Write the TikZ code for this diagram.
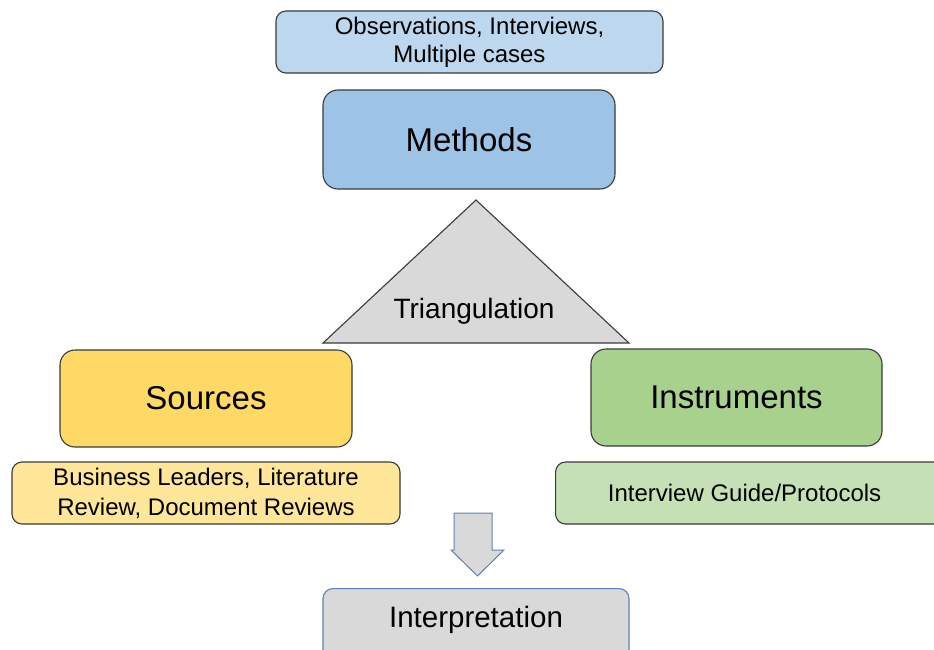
\documentclass[tikz,border=0pt]{standalone}
\usepackage{fontspec}
\setmainfont{Liberation Sans}
\definecolor{topblue}{HTML}{BDD7EE}
\definecolor{methblue}{HTML}{9DC3E6}
\definecolor{srcyel}{HTML}{FFD966}
\definecolor{srcsub}{HTML}{FFE699}
\definecolor{insgreen}{HTML}{A9D18E}
\definecolor{inssub}{HTML}{C5E0B4}
\definecolor{lgray}{HTML}{D9D9D9}
\definecolor{edgedark}{HTML}{3A3A3A}
\definecolor{edgeblue}{HTML}{5F80B6}
\tikzset{
  box/.style={draw=edgedark, line width=1.1pt, rounded corners=10pt, inner sep=0pt, align=center, text=black},
  bigtxt/.style={font=\fontsize{33}{38}\selectfont},
  smalltxt/.style={font=\fontsize{24}{29}\selectfont},
}
\begin{document}
\begin{tikzpicture}[x=1pt,y=-1pt]
\useasboundingbox (0,0) rectangle (934,650);
% top box
\node[box, fill=topblue, minimum width=387pt, minimum height=62pt, font=\fontsize{24}{28}\selectfont] (obs) at (469.5,42) {Observations, Interviews,\\Multiple cases};
% methods
\node[box, bigtxt, fill=methblue, rounded corners=15pt, minimum width=292pt, minimum height=99pt] (meth) at (469,139.5) {Methods};
% triangle
\draw[draw=edgedark, line width=1.1pt, fill=lgray, line join=miter] (476,200) -- (629,343) -- (323,343) -- cycle;
\node[font=\fontsize{28}{32}\selectfont, text=black, inner sep=0pt] (tri) at (474,311) {Triangulation};
% sources
\node[box, bigtxt, fill=srcyel, rounded corners=15pt, minimum width=292pt, minimum height=97pt] (src) at (206,398.5) {Sources};
\node[box, fill=srcsub, minimum width=388pt, minimum height=62pt, font=\fontsize{24}{30}\selectfont] (srcs) at (206,493) {Business Leaders, Literature\\Review, Document Reviews};
% instruments
\node[box, bigtxt, fill=insgreen, rounded corners=15pt, minimum width=291pt, minimum height=97pt] (ins) at (736.5,397.5) {Instruments};
\node[box, smalltxt, fill=inssub, minimum width=390pt, minimum height=62pt, anchor=west] (inss) at (555,493) {\hspace*{-12pt}Interview Guide/Protocols};
% arrow
\draw[draw=edgeblue, line width=1pt, fill=lgray, line join=miter] (454,513) -- (492,513) -- (492,550) -- (504,550) -- (477.5,576) -- (451,550) -- (454,550) -- cycle;
% interpretation
\node[box, draw=edgeblue, fill=lgray, font=\fontsize{29.5}{34}\selectfont, minimum width=306pt, minimum height=80pt, anchor=north] (interp) at (476,588) {};
\node[font=\fontsize{29.5}{34}\selectfont, text=black, inner sep=0pt] (interpt) at (476,620) {Interpretation};
\end{tikzpicture}
\end{document}
